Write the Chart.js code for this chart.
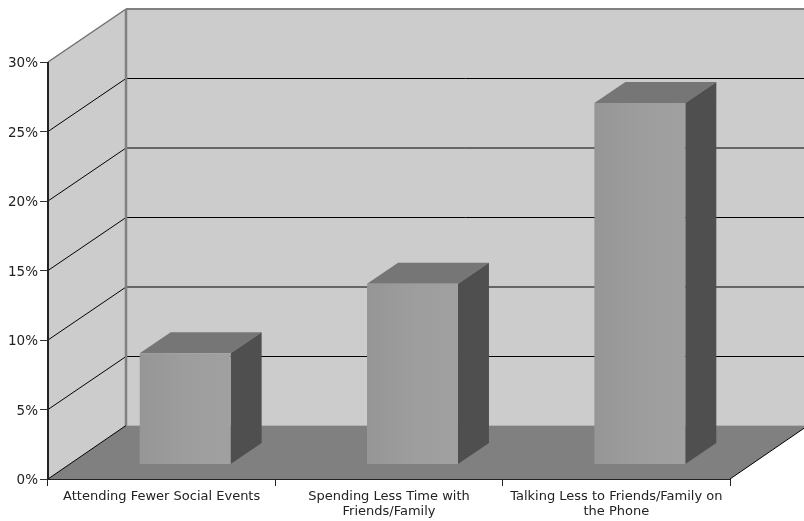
<!DOCTYPE html>
<html lang="en">
<head>
    <meta charset="UTF-8">
    <title>3D Bar Chart</title>
    <script src="https://cdn.jsdelivr.net/npm/chart.js"></script>
    <style>
        html, body { margin: 0; padding: 0; background: #fff; }
        canvas { display: block; }
    </style>
</head>
<body>
    <canvas id="myChart" width="804" height="521"></canvas>
    <script>
        const categories = [
            'Attending Fewer Social Events',
            ['Spending Less Time with', 'Friends/Family'],
            ['Talking Less to Friends/Family on', 'the Phone']
        ];
        const percentValues = [8, 13, 26];
        const axisMax = 30;
        const axisStep = 5;

        // how far the back wall sits behind the front plane
        const wallDx = 78, wallDy = 53, floorDy = 53.5;
        // where the bars stand on the floor, and how deep they are
        const barDx = 23.5, barDy = 14.6;
        const depthDx = 31, depthDy = 21;

        function poly(ctx, pts, fill) {
            ctx.beginPath();
            pts.forEach((p, i) => i ? ctx.lineTo(p[0], p[1]) : ctx.moveTo(p[0], p[1]));
            ctx.closePath();
            ctx.fillStyle = fill;
            ctx.fill();
        }

        function line(ctx, x1, y1, x2, y2, color, width) {
            ctx.beginPath();
            ctx.moveTo(x1, y1);
            ctx.lineTo(x2, y2);
            ctx.strokeStyle = color;
            ctx.lineWidth = width;
            ctx.stroke();
        }

        // walls, floor and grid go behind the bars
        const room3d = {
            id: 'room3d',
            beforeDatasetsDraw(chart) {
                const ctx = chart.ctx;
                const a = chart.chartArea;
                const yScale = chart.scales.y;
                const backL = a.left + wallDx;
                const backR = a.right + wallDx;
                const top = a.top;
                const bot = a.bottom;

                ctx.save();
                poly(ctx, [[backL, top - wallDy], [backR, top - wallDy], [backR, bot - floorDy], [backL, bot - floorDy]], '#cccccc');
                poly(ctx, [[a.left, top], [backL, top - wallDy], [backL, bot - floorDy], [a.left, bot]], '#cccccc');

                yScale.ticks.forEach(t => {
                    const y = yScale.getPixelForValue(t.value);
                    if (t.value === 0) return;
                    if (t.value === axisMax) {
                        line(ctx, a.left, y, backL, y - wallDy, '#707070', 1.5);
                        return;
                    }
                    line(ctx, a.left, y, backL, y - wallDy, '#000000', 1);
                    line(ctx, backL, y - wallDy, backR, y - wallDy, '#000000', 1);
                });

                poly(ctx, [[a.left, bot], [a.right, bot], [backR, bot - floorDy], [backL, bot - floorDy]], '#808080');
                line(ctx, backL, top - wallDy, backR, top - wallDy, '#808080', 2);
                line(ctx, backL, top - wallDy, backL, bot - floorDy, '#808080', 2.5);
                line(ctx, a.left, bot, backL, bot - floorDy, '#000000', 1);
                line(ctx, a.right, bot, backR, bot - floorDy, '#000000', 1);
                line(ctx, a.left, top, a.left, bot, '#222222', 2);
                ctx.restore();
            }
        };

        // replaces the flat rectangles with boxes, sized from the bar elements
        const bars3d = {
            id: 'bars3d',
            beforeDatasetDraw(chart, args) {
                const ctx = chart.ctx;
                ctx.save();
                args.meta.data.forEach(bar => {
                    const l = bar.x - bar.width / 2 + barDx;
                    const r = bar.x + bar.width / 2 + barDx;
                    const t = bar.y - barDy;
                    const b = bar.base - barDy;
                    poly(ctx, [[l, t], [r, t], [r + depthDx, t - depthDy], [l + depthDx, t - depthDy]], '#767676');
                    poly(ctx, [[r, t], [r + depthDx, t - depthDy], [r + depthDx, b - depthDy], [r, b]], '#4f4f4f');
                    const grad = ctx.createLinearGradient(l, 0, r, 0);
                    grad.addColorStop(0, '#969696');
                    grad.addColorStop(0.5, '#9d9d9d');
                    grad.addColorStop(1, '#a0a0a0');
                    poly(ctx, [[l, t], [r, t], [r, b], [l, b]], grad);
                });
                ctx.restore();
                return false;
            }
        };

        const ctx = document.getElementById('myChart').getContext('2d');
        const myChart = new Chart(ctx, {
            type: 'bar',
            data: {
                labels: categories,
                datasets: [{ data: percentValues, backgroundColor: '#9d9d9d', barPercentage: 0.4, categoryPercentage: 1 }]
            },
            options: {
                responsive: false,
                animation: false,
                layout: { padding: { top: 62, right: 74, left: 0, bottom: 0 } },
                plugins: {
                    legend: { display: false },
                    tooltip: { enabled: false }
                },
                scales: {
                    x: {
                        afterFit: scale => { scale.height = 42; },
                        border: { color: '#222222', width: 2 },
                        grid: { drawOnChartArea: false, color: '#222222', tickLength: 7 },
                        ticks: {
                            color: '#222222',
                            maxRotation: 0,
                            autoSkip: false,
                            padding: 3,
                            font: { family: 'DejaVu Sans', size: 13, lineHeight: 1.15 }
                        }
                    },
                    y: {
                        min: 0,
                        max: axisMax,
                        afterFit: scale => { scale.width = 48; },
                        border: { display: false },
                        grid: { drawOnChartArea: false, color: '#333333', tickLength: 8 },
                        ticks: {
                            stepSize: axisStep,
                            color: '#222222',
                            padding: 2,
                            labelOffset: 1.5,
                            font: { family: 'DejaVu Sans', size: 13.5 },
                            callback: value => value + '%'
                        }
                    }
                }
            },
            plugins: [room3d, bars3d]
        });
    </script>
</body>
</html>
